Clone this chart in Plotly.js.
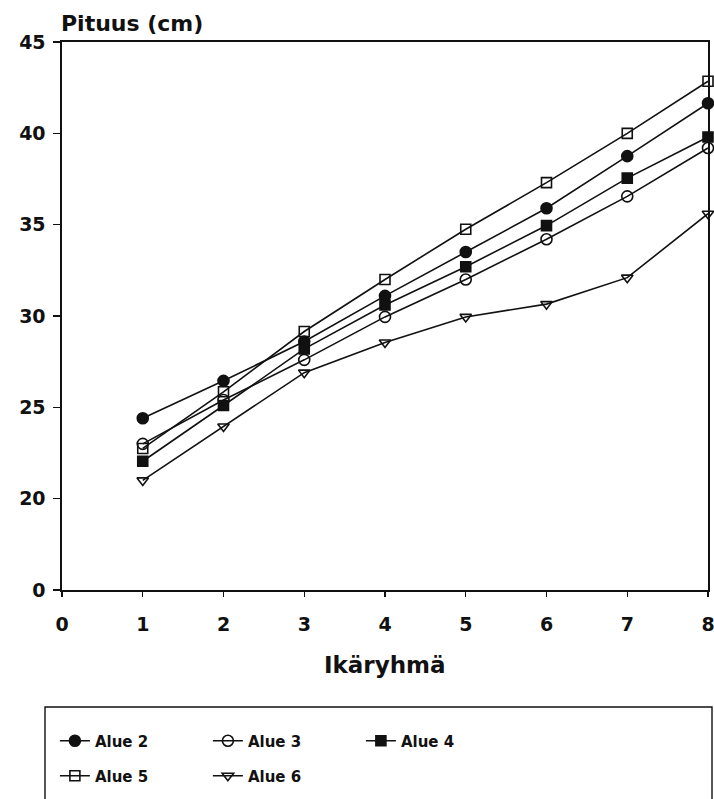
<!DOCTYPE html>
<html>
<head>
<meta charset="utf-8">
<script src="https://cdn.plot.ly/plotly-3.0.1.min.js"></script>
<style>
html,body{margin:0;padding:0;background:#fff;width:714px;height:799px;overflow:hidden;}
#wrap{width:714px;height:799px;overflow:hidden;position:relative;}
#chart{width:724px;height:799px;position:absolute;left:0;top:0;}
</style>
</head>
<body>
<div id="wrap"><div id="chart"></div></div>
<script>
// Age groups (x) and heights in cm per region
const ageGroups = [1, 2, 3, 4, 5, 6, 7, 8];
const alue2 = [24.4, 26.45, 28.6, 31.1, 33.5, 35.9, 38.75, 41.65];
const alue3 = [23.0, 25.4, 27.6, 29.95, 32.0, 34.2, 36.55, 39.2];
const alue4 = [22.05, 25.1, 28.2, 30.6, 32.7, 34.95, 37.55, 39.8];
const alue5 = [22.75, 25.85, 29.15, 32.0, 34.75, 37.3, 40.0, 42.85];
const alue6 = [21.0, 23.95, 26.9, 28.55, 29.95, 30.65, 32.1, 35.6];
const seriesNames = ['Alue 2', 'Alue 3', 'Alue 4', 'Alue 5', 'Alue 6'];
// Broken y axis: the "0" tick sits one step below 20
const yTickVals = [15, 20, 25, 30, 35, 40, 45];
const yTickText = ['0', '20', '25', '30', '35', '40', '45'];
const xTickVals = [0, 1, 2, 3, 4, 5, 6, 7, 8];

const FONT = 'DejaVu Sans, Liberation Sans, Arial, sans-serif';
const seriesValues = [alue2, alue3, alue4, alue5, alue6];
const symbols = ['circle', 'circle-open', 'square', 'square-open', 'triangle-down-open'];
const sizes = [11, 11, 10, 10, 10];
const legendIds = ['legend', 'legend', 'legend', 'legend2', 'legend2'];

const traces = seriesNames.map((name, i) => ({
  type: 'scatter',
  mode: 'lines+markers',
  name: name,
  x: ageGroups,
  y: seriesValues[i],
  cliponaxis: false,
  legend: legendIds[i],
  line: {color: '#111', width: 1.6},
  marker: {symbol: symbols[i], size: sizes[i], color: '#111', line: {color: '#111', width: 1.6}}
}));

const legendCommon = {
  orientation: 'h',
  xanchor: 'left',
  yanchor: 'middle',
  x: -0.011,
  entrywidth: 108,
  entrywidthmode: 'pixels',
  bgcolor: 'rgba(0,0,0,0)',
  borderwidth: 0,
  font: {family: FONT, size: 15, color: '#111', weight: 'bold'}
};

const layout = {
  width: 724,
  height: 799,
  margin: {l: 62, r: 16, t: 42, b: 209, autoexpand: false},
  paper_bgcolor: '#fff',
  plot_bgcolor: '#fff',
  showlegend: true,
  legend: Object.assign({}, legendCommon, {y: -0.2755}),
  legend2: Object.assign({}, legendCommon, {y: -0.3394}),
  xaxis: {
    range: [0, 8],
    tickvals: xTickVals,
    automargin: false,
    ticks: 'outside',
    ticklen: 5,
    tickwidth: 1.2,
    tickcolor: '#111',
    showline: true,
    linecolor: '#111',
    linewidth: 1.6,
    mirror: true,
    showgrid: false,
    zeroline: false,
    ticklabelstandoff: 12,
    tickfont: {family: FONT, size: 19, color: '#111', weight: 'bold'}
  },
  yaxis: {
    range: [15, 45],
    tickvals: yTickVals,
    ticktext: yTickText,
    automargin: false,
    ticks: 'outside',
    ticklen: 7,
    tickwidth: 1.2,
    tickcolor: '#111',
    showline: true,
    linecolor: '#111',
    linewidth: 1.6,
    mirror: true,
    showgrid: false,
    zeroline: false,
    ticklabelstandoff: 4,
    tickfont: {family: FONT, size: 19, color: '#111', weight: 'bold'}
  },
  annotations: [{
    text: 'Pituus (cm)',
    xref: 'paper', yref: 'paper',
    x: 0, y: 1,
    xanchor: 'left', yanchor: 'bottom',
    xshift: -3, yshift: 4,
    showarrow: false,
    font: {family: FONT, size: 22, color: '#111', weight: 'bold'}
  }, {
    text: 'Ikäryhmä',
    xref: 'paper', yref: 'paper',
    x: 0.5, y: -0.137,
    xanchor: 'center', yanchor: 'middle',
    showarrow: false,
    font: {family: FONT, size: 23, color: '#111', weight: 'bold'}
  }],
  shapes: [{
    type: 'rect',
    xref: 'paper', yref: 'paper',
    x0: -0.0263, x1: 1.0062,
    y0: -0.40, y1: -0.2135,
    line: {color: '#111', width: 1.4},
    fillcolor: 'rgba(0,0,0,0)'
  }]
};

Plotly.newPlot('chart', traces, layout, {staticPlot: true, displayModeBar: false});
</script>
</body>
</html>
